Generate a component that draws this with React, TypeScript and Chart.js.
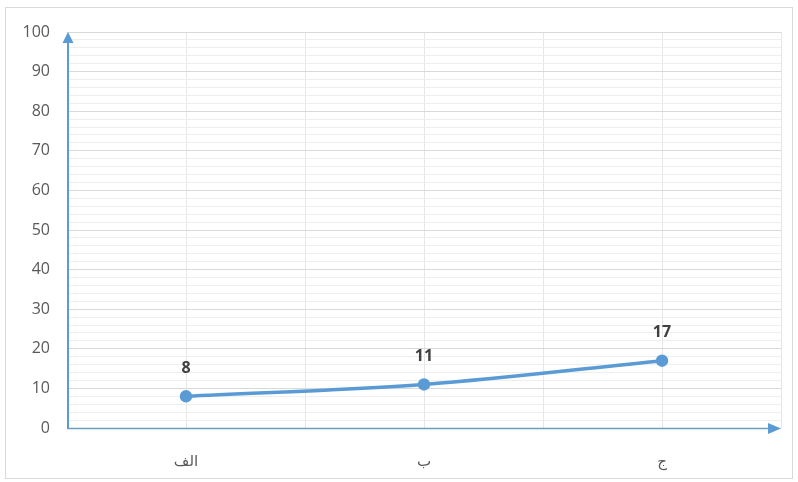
import React, { useEffect, useRef } from "react";
import { Chart, registerables } from "chart.js";

Chart.register(...registerables);

const categories = ["الف", "ب", "ج"];
const values = [8, 11, 17];
const yMin = 0;
const yMax = 100;
const yMajorStep = 10;
const yMinorStep = 2;

const FONT = '"Open Sans", "DejaVu Sans", sans-serif';
const AXIS_BLUE = "#5b9bd5";

export default function App() {
  const ref = useRef<HTMLCanvasElement>(null);

  useEffect(() => {
    if (!ref.current) return;

    const decor = {
      id: "decor",
      beforeDraw(chart: any) {
        const ctx = chart.ctx;
        ctx.save();
        ctx.fillStyle = "#ffffff";
        ctx.fillRect(0, 0, chart.width, chart.height);
        ctx.strokeStyle = "#d9d9d9";
        ctx.lineWidth = 1;
        ctx.strokeRect(5.5, 7.5, chart.width - 11, chart.height - 11);
        ctx.restore();
      },
      beforeDatasetsDraw(chart: any) {
        const ctx = chart.ctx;
        const a = chart.chartArea;
        ctx.save();
        // x axis line
        ctx.strokeStyle = "#6a9fc0";
        ctx.lineWidth = 1.5;
        ctx.beginPath();
        ctx.moveTo(a.left, a.bottom + 0.5);
        ctx.lineTo(a.right - 8, a.bottom + 0.5);
        ctx.stroke();
        ctx.fillStyle = AXIS_BLUE;
        ctx.beginPath();
        ctx.moveTo(a.right, a.bottom + 0.5);
        ctx.lineTo(a.right - 13, a.bottom - 5);
        ctx.lineTo(a.right - 13, a.bottom + 6);
        ctx.closePath();
        ctx.fill();
        // y axis line
        ctx.strokeStyle = AXIS_BLUE;
        ctx.lineWidth = 2;
        ctx.beginPath();
        ctx.moveTo(a.left + 1, a.bottom);
        ctx.lineTo(a.left + 1, a.top + 8);
        ctx.stroke();
        ctx.beginPath();
        ctx.moveTo(a.left + 1, a.top);
        ctx.lineTo(a.left - 4.5, a.top + 11);
        ctx.lineTo(a.left + 6.5, a.top + 11);
        ctx.closePath();
        ctx.fill();
        ctx.restore();
      },
      afterDatasetsDraw(chart: any) {
        const ctx = chart.ctx;
        const meta = chart.getDatasetMeta(0);
        ctx.save();
        ctx.font = "bold 16px " + FONT;
        ctx.fillStyle = "#404040";
        ctx.textAlign = "center";
        ctx.textBaseline = "middle";
        meta.data.forEach((pt: any, i: number) => {
          ctx.fillText(String(values[i]), pt.x, pt.y - 28);
        });
        ctx.restore();
      },
    };

    const chart = new Chart(ref.current, {
      type: "line",
      data: {
        datasets: [
          {
            data: values.map((v, i) => ({ x: i + 0.5, y: v })),
            borderColor: AXIS_BLUE,
            backgroundColor: AXIS_BLUE,
            borderWidth: 3.5,
            pointRadius: 4.5,
            pointBackgroundColor: AXIS_BLUE,
            pointBorderColor: AXIS_BLUE,
            tension: 0.25,
            cubicInterpolationMode: "monotone",
          },
        ],
      },
      options: {
        animation: false,
        responsive: true,
        maintainAspectRatio: false,
        layout: { padding: { left: 0, top: 32, right: 17, bottom: 0 } },
        plugins: { legend: { display: false }, tooltip: { enabled: false } },
        scales: {
          x: {
            type: "linear",
            min: 0,
            max: categories.length,
            afterBuildTicks(scale: any) {
              const t = [];
              for (let v = 0; v <= categories.length + 1e-9; v += 0.5) t.push({ value: v });
              scale.ticks = t;
            },
            afterFit(scale: any) {
              scale.height = 54;
              scale.paddingLeft = 0;
              scale.paddingRight = 0;
            },
            ticks: {
              autoSkip: false,
              maxRotation: 0,
              padding: 25,
              color: "#595959",
              font: { family: FONT, size: 15 },
              callback(value: any) {
                const v = Number(value);
                const idx = v - 0.5;
                if (Math.abs(idx - Math.round(idx)) < 1e-6 && categories[Math.round(idx)] !== undefined) {
                  return categories[Math.round(idx)];
                }
                return "";
              },
            },
            grid: { color: "#e6e6e6", lineWidth: 1, drawTicks: false },
            border: { display: false },
          },
          y: {
            min: yMin,
            max: yMax,
            afterFit(scale: any) {
              scale.width = 67;
            },
            ticks: {
              stepSize: yMinorStep,
              autoSkip: false,
              padding: 17,
              color: "#595959",
              font: { family: FONT, size: 16 },
              callback(value: any) {
                return Number(value) % yMajorStep === 0 ? String(value) : "";
              },
            },
            grid: {
              drawTicks: false,
              color: (c: any) => (c.tick && c.tick.value % yMajorStep === 0 ? "#d9d9d9" : "#eeeeee"),
              lineWidth: 1,
            },
            border: { display: false },
          },
        },
      },
      plugins: [decor],
    });

    return () => chart.destroy();
  }, []);

  return (
    <div style={{ position: "absolute", left: 0, top: 0, width: 798, height: 482 }}>
      <canvas ref={ref} />
    </div>
  );
}
